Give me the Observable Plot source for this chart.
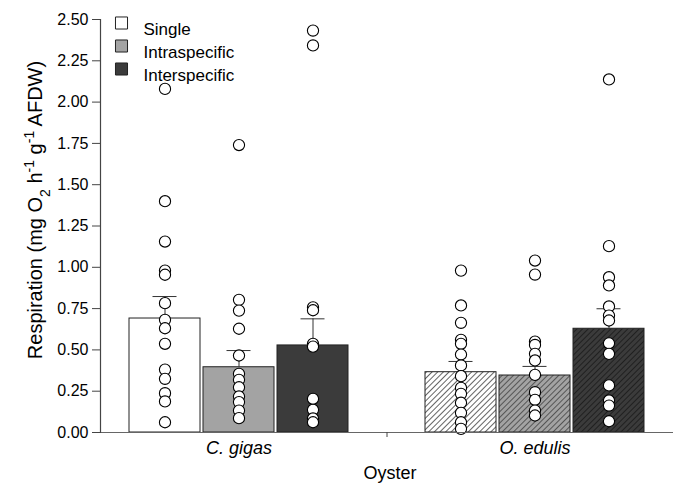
<!DOCTYPE html>
<html>
<head>
<meta charset="utf-8">
<script src="https://cdn.jsdelivr.net/npm/d3@7"></script>
<script src="https://cdn.jsdelivr.net/npm/@observablehq/plot@0.6"></script>
<style>
  html, body { margin: 0; padding: 0; background: white; }
  #chart { width: 674px; height: 487px; }
</style>
</head>
<body>
<div id="chart"></div>
<script>
// ---- Data ----
const species = ["C. gigas", "O. edulis"];
const treatments = ["Single", "Intraspecific", "Interspecific"];
const yTicks = [0, 0.25, 0.5, 0.75, 1.0, 1.25, 1.5, 1.75, 2.0, 2.25, 2.5];

const meanCgigas = [0.69, 0.395, 0.527];
const meanOedulis = [0.365, 0.345, 0.628];
const upperCgigas = [0.823, 0.496, 0.688];
const upperOedulis = [0.43, 0.40, 0.749];

const cgSingle = [2.08, 1.40, 1.156, 0.98, 0.955, 0.783, 0.682, 0.631, 0.537, 0.381, 0.325, 0.238, 0.188, 0.062];
const cgIntra = [1.74, 0.803, 0.738, 0.628, 0.466, 0.355, 0.319, 0.274, 0.218, 0.184, 0.133, 0.087];
const cgInter = [2.433, 2.343, 0.758, 0.74, 0.537, 0.52, 0.204, 0.137, 0.085, 0.062];
const oeSingle = [0.98, 0.769, 0.664, 0.561, 0.537, 0.472, 0.406, 0.341, 0.27, 0.234, 0.18, 0.119, 0.062, 0.022];
const oeIntra = [1.041, 0.956, 0.55, 0.53, 0.476, 0.436, 0.349, 0.244, 0.198, 0.133, 0.103];
const oeInter = [2.137, 1.128, 0.94, 0.89, 0.763, 0.708, 0.678, 0.54, 0.476, 0.285, 0.194, 0.163, 0.068];

const legendFills = ["white", "#a3a3a3", "#3b3b3b"];
const barFills = ["white", "#a3a3a3", "#3b3b3b", "url(#hatchW)", "url(#hatchG)", "url(#hatchD)"];

// ---- Build tables ----
const means = [meanCgigas, meanOedulis];
const uppers = [upperCgigas, upperOedulis];
const pts = [[cgSingle, cgIntra, cgInter], [oeSingle, oeIntra, oeInter]];
const keyOf = (s, t) => s + "|" + t;
const keys = species.flatMap(s => treatments.map(t => keyOf(s, t)));
const xDomain = [...treatments.map(t => keyOf(species[0], t)), "gap", ...treatments.map(t => keyOf(species[1], t))];

const bars = [];
const points = [];
species.forEach((s, si) => treatments.forEach((t, ti) => {
  bars.push({key: keyOf(s, t), mean: means[si][ti], upper: uppers[si][ti]});
  pts[si][ti].forEach(v => points.push({key: keyOf(s, t), value: v}));
}));
const speciesLabels = species.map(s => ({key: keyOf(s, treatments[1]), label: s}));

const font = "'Liberation Sans', Arial, Helvetica, sans-serif";

const legendMarks = treatments.flatMap((t, i) => [
  Plot.dot([t], {frameAnchor: "top-left", dx: 21, dy: 3.5 + i * 23, symbol: "square", r: 6.8, fill: legendFills[i], stroke: "#222", strokeWidth: 1}),
  Plot.text([t], {frameAnchor: "top-left", dx: 43, dy: 3.5 + i * 23, text: d => d, textAnchor: "start", fontSize: 17, fill: "black"})
]);

const chart = Plot.plot({
  width: 674,
  height: 487,
  marginLeft: 100,
  marginRight: 1,
  marginTop: 19,
  marginBottom: 55,
  style: {fontFamily: font, background: "white", color: "black"},
  x: {domain: xDomain, paddingInner: 0.04, paddingOuter: 0.375, axis: null},
  y: {domain: [0, 2.5], axis: null},
  color: {domain: keys, range: barFills},
  marks: [
    Plot.barY(bars, {x: "key", y: "mean", fill: "key", stroke: "#222", strokeWidth: 1}),
    Plot.ruleX(bars, {x: "key", y1: "mean", y2: "upper", stroke: "#333", strokeWidth: 1}),
    Plot.tickY(bars, {x: "key", y: "upper", stroke: "#333", strokeWidth: 1, inset: 23.5}),
    Plot.dot(points, {x: "key", y: "value", r: 5.6, fill: "white", stroke: "black", strokeWidth: 1.1}),
    Plot.ruleY([0], {stroke: "#666", strokeWidth: 1.2}),
    Plot.frame({anchor: "left", stroke: "#444", strokeWidth: 1.2}),
    Plot.axisY({ticks: yTicks, tickFormat: d3.format(".2f"), tickSize: 8, tickPadding: 4, fontSize: 16, label: null, stroke: "#444"}),
    Plot.axisX({ticks: ["gap"], tickSize: 5, tickFormat: () => "", label: null, stroke: "#444"}),
    Plot.text(speciesLabels, {x: "key", frameAnchor: "bottom", dy: 21, text: "label", fontStyle: "italic", fontSize: 18, fill: "black"}),
    Plot.text(["Oyster"], {frameAnchor: "bottom", dy: 46, dx: 3, text: d => d, fontSize: 18, fill: "black"}),
    ...legendMarks
  ]
});

// hatch patterns for O. edulis bars
const svg = d3.select(chart);
svg.insert("defs", ":first-child").html(`
  <pattern id="hatchW" patternUnits="userSpaceOnUse" width="4" height="4" patternTransform="rotate(45)">
    <rect width="4" height="4" fill="white"/><line x1="0" y1="0" x2="0" y2="4" stroke="#111" stroke-width="1.3"/>
  </pattern>
  <pattern id="hatchG" patternUnits="userSpaceOnUse" width="4" height="4" patternTransform="rotate(45)">
    <rect width="4" height="4" fill="#a3a3a3"/><line x1="0" y1="0" x2="0" y2="4" stroke="#2a2a2a" stroke-width="1.3"/>
  </pattern>
  <pattern id="hatchD" patternUnits="userSpaceOnUse" width="4" height="4" patternTransform="rotate(45)">
    <rect width="4" height="4" fill="#3b3b3b"/><line x1="0" y1="0" x2="0" y2="4" stroke="#111" stroke-width="1.3"/>
  </pattern>`);

// y-axis title with sub/superscripts
const yl = svg.append("text")
  .attr("transform", "translate(42,210) rotate(-90)")
  .attr("text-anchor", "middle")
  .attr("font-family", font)
  .attr("font-size", 20)
  .attr("fill", "black");
yl.append("tspan").text("Respiration (mg O");
yl.append("tspan").attr("baseline-shift", "sub").attr("font-size", 14).text("2");
yl.append("tspan").text(" h");
yl.append("tspan").attr("baseline-shift", "super").attr("font-size", 14).text("-1");
yl.append("tspan").text(" g");
yl.append("tspan").attr("baseline-shift", "super").attr("font-size", 14).text("-1");
yl.append("tspan").text(" AFDW)");

document.getElementById("chart").appendChild(chart);
</script>
</body>
</html>
